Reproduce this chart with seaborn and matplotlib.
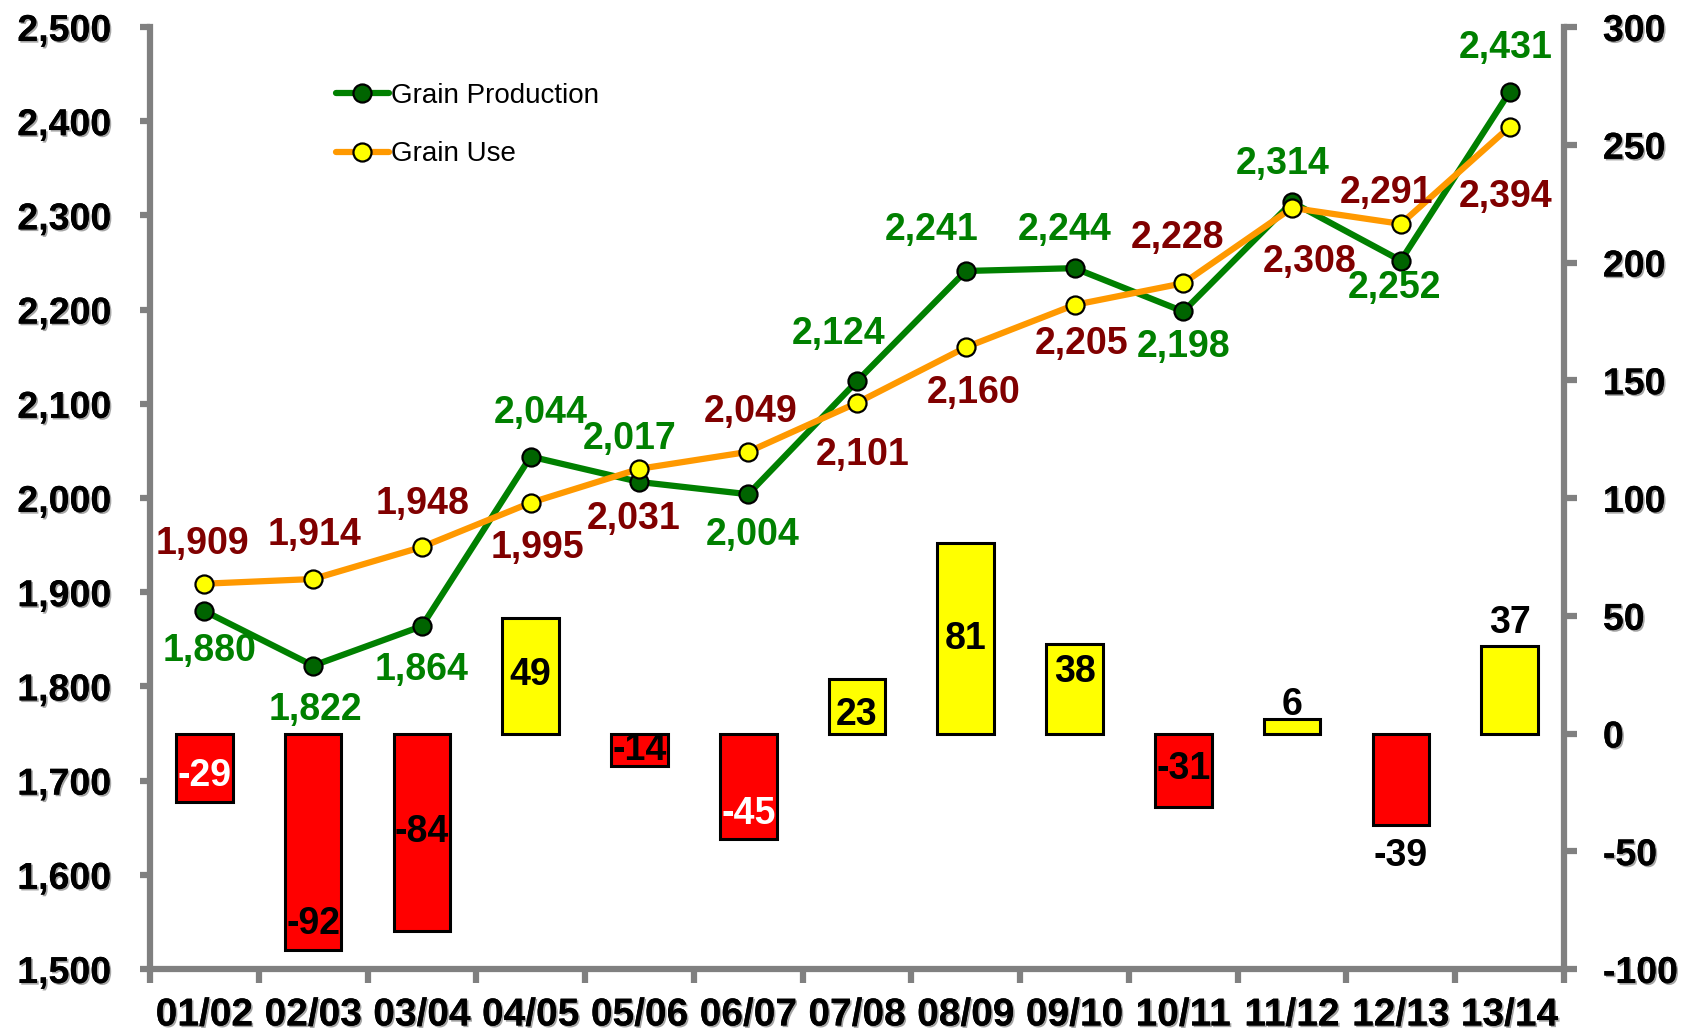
import matplotlib
matplotlib.use('Agg')
import matplotlib.pyplot as plt
import matplotlib.patheffects as pe
from matplotlib.ticker import FuncFormatter
import numpy as np
import pandas as pd
import seaborn as sns

sns.set_theme(style='white')
plt.rcParams['font.family'] = ['Liberation Sans', 'DejaVu Sans']
plt.rcParams['axes.unicode_minus'] = False

years = ['01/02', '02/03', '03/04', '04/05', '05/06', '06/07', '07/08',
         '08/09', '09/10', '10/11', '11/12', '12/13', '13/14']
production = [1880, 1822, 1864, 2044, 2017, 2004, 2124, 2241, 2244, 2198, 2314, 2252, 2431]
use = [1909, 1914, 1948, 1995, 2031, 2049, 2101, 2160, 2205, 2228, 2308, 2291, 2394]
diff = [-29, -92, -84, 49, -14, -45, 23, 81, 38, -31, 6, -39, 37]

# label placement (offsets from the point, in category / axis units)
prod_dx = [0.05, 0.02, 0.0, 0.09, -0.09, 0.04, -0.17, -0.31, -0.09, 0.0, -0.09, -0.06, -0.04]
prod_dy = [-42, -47, -47, 46, 46, -43, 50, 44, 41, -38, 41, -29, 47]
use_dx = [-0.02, 0.01, 0.01, 0.06, -0.05, 0.02, 0.05, 0.07, 0.06, -0.05, 0.16, -0.13, -0.04]
use_dy = [42, 47, 46, -48, -53, 42, -55, -49, -42, 48, -57, 33, -74]
diff_lab_y = [-18, -81, -42, 25, -7, -34, 8, 40, 26, -15, 12, -52, 47]
diff_lab_col = ['white', 'black', 'black', 'black', 'black', 'white', 'black',
                'black', 'black', 'black', 'black', 'black', 'black']

GREY = '#808080'
GREEN = '#008000'
MAROON = '#800000'
shadow = [pe.withSimplePatchShadow(offset=(1.2, -1.2), shadow_rgbFace='#909090', alpha=0.8), pe.Normal()]

pos = np.arange(len(years))
df = pd.DataFrame({'year': years, 'production': production, 'use': use, 'diff': diff, 'pos': pos})
bar_cols = ['#FF0000' if v < 0 else '#FFFF00' for v in diff]

fig = plt.figure(figsize=(16.86, 10.34), dpi=100)
ax = fig.add_axes([150 / 1686, 1 - 969 / 1034, 1414 / 1686, 942 / 1034])
ax2 = ax.twinx()

# bars on right axis
sns.barplot(data=df, x='year', y='diff', hue='year', palette=bar_cols, legend=False,
            width=0.52, edgecolor='black', linewidth=2.2, saturation=1, ax=ax2)
for i, v in enumerate(diff):
    ax2.text(i, diff_lab_y[i], str(v), ha='center', va='center', fontsize=27,
             fontweight='bold', color=diff_lab_col[i])

# lines on left axis
sns.lineplot(data=df, x='pos', y='production', color=GREEN, linewidth=4.5, marker='o',
             markersize=13, markerfacecolor='#006400', markeredgecolor='black',
             markeredgewidth=1.6, label='Grain Production', ax=ax)
sns.lineplot(data=df, x='pos', y='use', color='#FF9900', linewidth=4.5, marker='o',
             markersize=13, markerfacecolor='#FFFF00', markeredgecolor='black',
             markeredgewidth=1.6, label='Grain Use', ax=ax)
for i in range(len(years)):
    ax.text(i + prod_dx[i], production[i] + prod_dy[i], f'{production[i]:,}', ha='center',
            va='center', fontsize=27, fontweight='bold', color=GREEN)
    ax.text(i + use_dx[i], use[i] + use_dy[i], f'{use[i]:,}', ha='center',
            va='center', fontsize=27, fontweight='bold', color=MAROON)

ax.set_zorder(ax2.get_zorder() + 1)
ax.patch.set_visible(False)

ax.set_ylim(1500, 2500)
ax.set_yticks(np.arange(1500, 2501, 100))
ax.yaxis.set_major_formatter(FuncFormatter(lambda v, p: f'{int(v):,}'))
ax2.set_ylim(-100, 300)
ax2.set_yticks(np.arange(-100, 301, 50))
ax.set_xlim(-0.5, len(years) - 0.5)
ax.set_xticks(pos)
ax.set_xticklabels(years)
ax.set_xticks(np.arange(-0.5, len(years), 1), minor=True)
ax.set_xlabel('')
ax.set_ylabel('')
ax2.set_ylabel('')
ax2.set_xlabel('')

for s in ['top', 'right']:
    ax.spines[s].set_visible(False)
for s in ['top', 'left', 'bottom']:
    ax2.spines[s].set_visible(False)
for s in ['left', 'bottom']:
    ax.spines[s].set_color(GREY)
    ax.spines[s].set_linewidth(4.5)
ax2.spines['right'].set_color(GREY)
ax2.spines['right'].set_linewidth(4.5)

ax.tick_params(axis='y', which='major', direction='out', length=7, width=4.5, color=GREY,
               labelsize=27, pad=21, left=True)
ax2.tick_params(axis='y', which='major', direction='out', length=9, width=4.5, color=GREY,
                labelsize=27, pad=19, right=True)
ax.tick_params(axis='x', which='major', length=0, labelsize=28, pad=20.5)
ax.tick_params(axis='x', which='minor', direction='out', length=10, width=4.5, color=GREY, bottom=True)
ax2.tick_params(axis='x', which='both', length=0)

for lab in ax.get_xticklabels() + ax.get_yticklabels() + ax2.get_yticklabels():
    lab.set_fontweight('bold')
    lab.set_color('black')
    lab.set_path_effects(shadow)

leg = ax.legend(loc='upper left', bbox_to_anchor=(0.1315, 0.941), frameon=False,
                fontsize=20, handlelength=1.9, handletextpad=0.1, labelspacing=1.18,
                borderpad=0, borderaxespad=0)
for t in leg.get_texts():
    t.set_color('black')

fig.savefig('out.png', dpi=100)
